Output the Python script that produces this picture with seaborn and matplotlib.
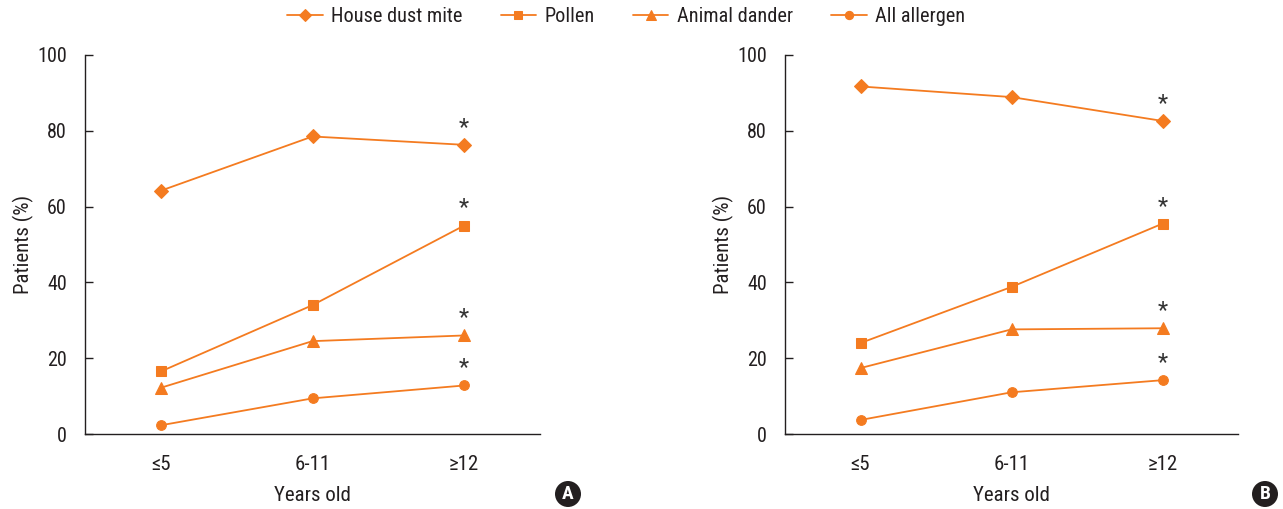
import matplotlib
matplotlib.use("Agg")
import matplotlib.pyplot as plt
import seaborn as sns
import pandas as pd
from matplotlib.patches import Ellipse

sns.set_style("white")
plt.rcParams['font.family'] = ['Roboto Condensed', 'DejaVu Sans']

age_groups = ["≤5", "6-11", "≥12"]
series_names = ["House dust mite", "Pollen", "Animal dander", "All allergen"]

a_house_dust_mite = [64.2, 78.5, 76.3]
a_pollen = [16.5, 34.0, 55.0]
a_animal_dander = [12.2, 24.5, 26.0]
a_all_allergen = [2.3, 9.4, 12.8]

b_house_dust_mite = [91.7, 88.9, 82.6]
b_pollen = [24.0, 38.8, 55.5]
b_animal_dander = [17.4, 27.6, 27.9]
b_all_allergen = [3.7, 11.0, 14.2]

panel_labels = ["A", "B"]
y_ticks = [0, 20, 40, 60, 80, 100]

ORANGE = "#F47B20"
TEXT = "#231f20"
markers = {"House dust mite": "D", "Pollen": "s", "Animal dander": "^", "All allergen": "o"}
msizes = {"House dust mite": 7, "Pollen": 7.5, "Animal dander": 8, "All allergen": 7}

def make_df(vals):
    rows = []
    for name, v in zip(series_names, vals):
        for i, val in enumerate(v):
            rows.append({"x": i, "value": val, "series": name})
    return pd.DataFrame(rows)

panels = [
    make_df([a_house_dust_mite, a_pollen, a_animal_dander, a_all_allergen]),
    make_df([b_house_dust_mite, b_pollen, b_animal_dander, b_all_allergen]),
]

fig = plt.figure(figsize=(12.83, 5.09), dpi=100)
W, H = 1283, 509
ax_rects = [
    (85 / W, 1 - 434 / H, (540 - 85) / W, (434 - 55) / H),
    (785 / W, 1 - 434 / H, (1238 - 785) / W, (434 - 55) / H),
]
badge_x = [568, 1265]
FS = 15

for k, (df, rect) in enumerate(zip(panels, ax_rects)):
    ax = fig.add_axes(rect)
    for name in series_names:
        sub = df[df.series == name]
        sns.lineplot(data=sub, x="x", y="value", ax=ax, color=ORANGE,
                     marker=markers[name], markersize=msizes[name],
                     markeredgecolor=ORANGE, linewidth=1.3, label=name,
                     legend=False)
        ax.text(2, sub["value"].iloc[-1] + 1.6, "*", ha="center", va="bottom",
                fontsize=17, color="#333333")
    ax.set_xlim(-0.5, 2.5)
    ax.set_ylim(0, 100)
    ax.set_yticks(y_ticks)
    ax.set_xticks([0, 1, 2])
    ax.set_xticklabels(age_groups)
    ax.set_xticks([0.5, 1.5, 2.5], minor=True)
    ax.tick_params(axis="x", which="major", length=0, pad=15, labelsize=FS, colors=TEXT)
    ax.tick_params(axis="x", which="minor", direction="in", length=6, width=1, color=TEXT)
    ax.tick_params(axis="y", direction="in", length=6, width=1, labelsize=14.5,
                   color=TEXT, labelcolor=TEXT, pad=13, left=True)
    for s in ["top", "right"]:
        ax.spines[s].set_visible(False)
    for s in ["left", "bottom"]:
        ax.spines[s].set_color(TEXT)
        ax.spines[s].set_linewidth(1.0)
    ax.set_xlabel("Years old", fontsize=FS, color=TEXT, labelpad=9)
    ax.set_ylabel("Patients (%)", fontsize=FS, color=TEXT, labelpad=2)
    cx = badge_x[k] / W
    cy = 1 - 494 / H
    ell = Ellipse((cx, cy), 26 / W, 26 / H, transform=fig.transFigure,
                  facecolor=TEXT, edgecolor="none")
    fig.add_artist(ell)
    fig.text(cx, cy, panel_labels[k], ha="center", va="center", color="white",
             fontsize=14, fontweight="bold")
    if k == 0:
        handles, labels = ax.get_legend_handles_labels()

fig.legend(handles, labels, loc="center", bbox_to_anchor=(626 / W, 1 - 17 / H),
           ncol=4, frameon=False, fontsize=14.6, handlelength=1.75,
           columnspacing=1.9, handletextpad=0.4, labelcolor=TEXT, markerscale=0.85)

fig.savefig("out.png", dpi=100)
